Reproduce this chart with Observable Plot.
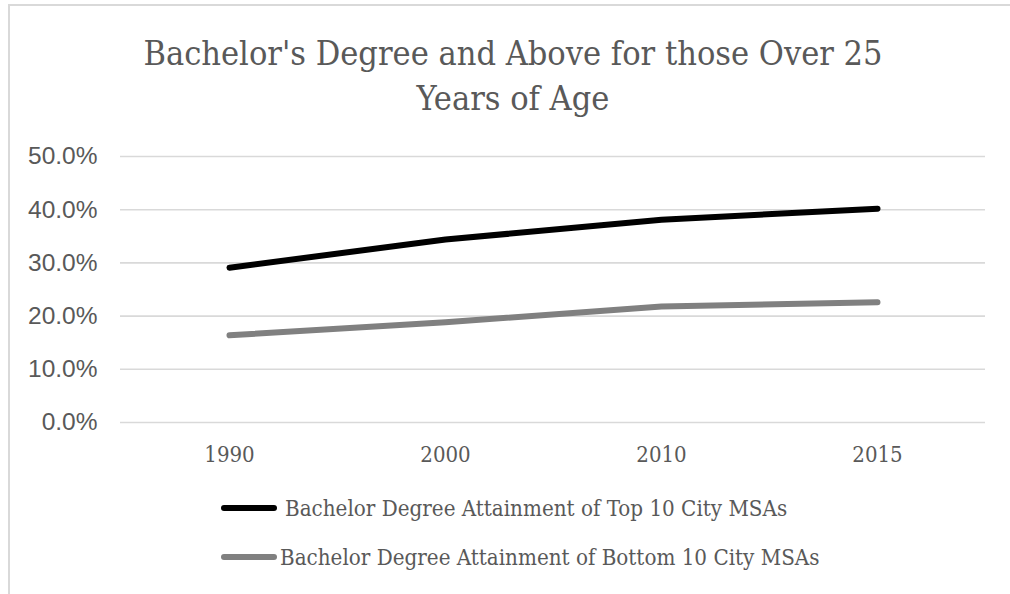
<!DOCTYPE html>
<html>
<head>
<meta charset="utf-8">
<script src="https://cdn.jsdelivr.net/npm/d3@7"></script>
<script src="https://cdn.jsdelivr.net/npm/@observablehq/plot@0.6"></script>
<style>
  html, body { margin: 0; padding: 0; background: #fff; }
  body { width: 1010px; height: 594px; position: relative; overflow: hidden; }
  .frame { position: absolute; left: 8px; top: 4px; width: 1100px; height: 700px;
           border-left: 2.5px solid #d9d9d9; border-top: 2px solid #d9d9d9; }
  .title { position: absolute; left: 16px; width: 994px; top: 31px; text-align: center;
           font-family: "DejaVu Serif Condensed", "DejaVu Serif", serif; font-stretch: condensed;
           font-size: 34px; line-height: 45px; color: #595959; }
  #chart { position: absolute; left: 0; top: 130px; }
  .legend { position: absolute; left: 221px; top: 0; font-family: "DejaVu Serif Condensed", "DejaVu Serif", serif;
            font-stretch: condensed; font-size: 22.2px; color: #595959; }
  .item { position: absolute; white-space: nowrap; display: flex; align-items: center; }
  .swatch { width: 56px; height: 6px; border-radius: 3px; }
</style>
</head>
<body>
<div class="frame"></div>
<div class="title" id="title"></div>
<div id="chart"></div>
<div class="legend" id="legend"></div>
<script>
// Share of adults over 25 holding a bachelor's degree or higher
const years = ["1990", "2000", "2010", "2015"];
const topMSAs = [0.291, 0.344, 0.381, 0.402];
const bottomMSAs = [0.164, 0.1885, 0.218, 0.226];
const yTicks = [0, 0.1, 0.2, 0.3, 0.4, 0.5];

const seriesNames = [
  "Bachelor Degree Attainment of Top 10 City MSAs",
  "Bachelor Degree Attainment of Bottom 10 City MSAs"
];
const seriesColors = ["#000000", "#808080"];
const titleLines = ["Bachelor's Degree and Above for those Over 25", "Years of Age"];

const rows = [
  ...years.map((year, i) => ({year, value: topMSAs[i], series: seriesNames[0]})),
  ...years.map((year, i) => ({year, value: bottomMSAs[i], series: seriesNames[1]}))
];

document.getElementById("title").innerHTML = titleLines.join("<br>");

const serif = "DejaVu Serif Condensed, DejaVu Serif, serif";

const chart = Plot.plot({
  width: 1010,
  height: 350,
  marginTop: 26,
  marginBottom: 58,
  marginLeft: 120,
  marginRight: 25,
  style: {color: "#595959", background: "transparent"},
  x: {type: "point", domain: years, padding: 0.5},
  y: {domain: [0, 0.5]},
  color: {domain: seriesNames, range: seriesColors},
  marks: [
    Plot.ruleY(yTicks, {stroke: "#d9d9d9", strokeWidth: 1.6}),
    Plot.axisY(yTicks, {
      tickSize: 0, tickPadding: 23, fontSize: 24.5,
      fontFamily: "Liberation Sans, Arial, sans-serif",
      tickFormat: d => (d * 100).toFixed(1) + "%", label: null
    }),
    Plot.axisX({tickSize: 0, tickPadding: 24, fontSize: 22, fontFamily: serif, label: null}),
    Plot.line(rows, {
      x: "year", y: "value", z: "series", stroke: "series",
      strokeWidth: 6, strokeLinecap: "round", strokeLinejoin: "round"
    })
  ]
});
document.getElementById("chart").appendChild(chart);

// Legend below the plot
const legend = document.getElementById("legend");
const legendTops = [508, 557];
const textGaps = [8, 3];
seriesNames.forEach((name, i) => {
  const item = document.createElement("div");
  item.className = "item";
  item.style.top = (legendTops[i] - 15) + "px";
  item.style.height = "30px";
  const sw = document.createElement("div");
  sw.className = "swatch";
  sw.style.background = seriesColors[i];
  const label = document.createElement("span");
  label.textContent = name;
  label.style.marginLeft = textGaps[i] + "px";
  item.appendChild(sw);
  item.appendChild(label);
  legend.appendChild(item);
});
</script>
</body>
</html>
